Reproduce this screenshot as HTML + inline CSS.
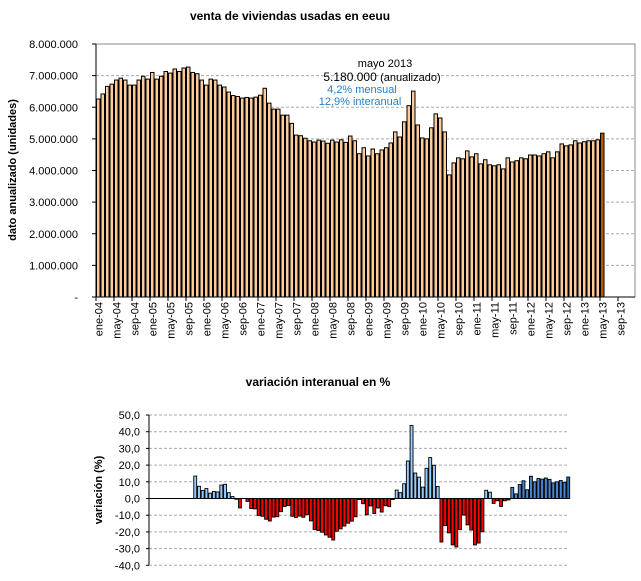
<!DOCTYPE html>
<html><head><meta charset="utf-8"><style>
body{margin:0;background:#fff;width:641px;height:581px;overflow:hidden}
svg{display:block;font-family:"Liberation Sans",Arial,sans-serif}
</style></head><body>
<svg id="s" width="641" height="581" xmlns="http://www.w3.org/2000/svg"></svg>
<script>
const d=[6.26,6.42,6.66,6.73,6.86,6.92,6.86,6.70,6.70,6.86,6.98,6.89,
7.10,6.89,6.98,7.13,7.08,7.21,7.13,7.24,7.27,7.10,7.06,6.86,
6.70,6.89,6.86,6.70,6.64,6.48,6.37,6.34,6.29,6.31,6.29,6.32,
6.38,6.60,6.13,5.94,5.94,5.75,5.75,5.49,5.12,5.10,5.02,4.94,
4.90,4.96,4.93,4.86,4.96,4.90,4.97,4.89,5.09,4.94,4.53,4.72,
4.46,4.68,4.53,4.65,4.72,4.87,5.22,5.06,5.54,6.05,6.51,5.44,
5.03,5.00,5.35,5.79,5.66,5.22,3.86,4.24,4.40,4.37,4.62,4.43,
4.53,4.21,4.34,4.18,4.15,4.18,4.05,4.40,4.27,4.31,4.40,4.37,
4.49,4.49,4.46,4.53,4.59,4.40,4.59,4.84,4.78,4.81,4.94,4.87,
4.91,4.94,4.94,4.97,5.18];
let h='';
const L=96,T=44,R=635,B=297,sl=4.5,pm=(B-T)/8;
h+=`<text x="290" y="20" font-size="12" font-weight="bold" text-anchor="middle">venta de viviendas usadas en eeuu</text>`;
for(let i=1;i<8;i++){const y=B-i*pm;h+=`<line x1="${L}" x2="${R}" y1="${y}" y2="${y}" stroke="#aaa" stroke-dasharray="3,2"/>`;}
h+=`<polyline points="${L},${T} ${R},${T} ${R},${B}" fill="none" stroke="#888"/>`;
for(let i=0;i<=8;i++){const y=B-i*pm;h+=`<line x1="${L-4}" x2="${L}" y1="${y}" y2="${y}" stroke="#000"/>`;
h+=`<text x="78" y="${y+4}" font-size="11" text-anchor="end">${i?i+'.000.000':'-'}</text>`;}
d.forEach((v,i)=>{const x=L+i*sl,y=B-v*pm;h+=`<rect x="${x+0.5}" y="${y}" width="${sl-1}" height="${B-y}" fill="${i==d.length-1?'#b35a00':'#ffcc99'}" stroke="#000" stroke-width="1"/>`;});
h+=`<line x1="${L}" x2="${L}" y1="${T}" y2="${B}" stroke="#000"/><line x1="${L}" x2="${R}" y1="${B}" y2="${B}" stroke="#000"/>`;
const mn=['ene','may','sep'];
for(let i=0;i<120;i+=4){const x=L+i*sl;h+=`<line x1="${x}" x2="${x}" y1="${B}" y2="${B+4}" stroke="#000"/>`;
const yr=String(4+Math.floor(i/12)).padStart(2,'0');const cx=x+sl/2+4;
h+=`<text transform="translate(${cx},302) rotate(-90)" font-size="11" text-anchor="end">${mn[(i%12)/4]}-${yr}</text>`;}
h+=`<text transform="translate(16,170) rotate(-90)" font-size="11" font-weight="bold" text-anchor="middle">dato anualizado (unidades)</text>`;
h+=`<text x="385" y="67" font-size="11" text-anchor="middle">mayo 2013</text>`;
h+=`<text x="382" y="81" font-size="12" text-anchor="middle">5.180.000 <tspan font-size="11">(anualizado)</tspan></text>`;
h+=`<text x="362" y="93" font-size="11" fill="#1f7fd0" text-anchor="middle">4,2% mensual</text>`;
h+=`<text x="360" y="105" font-size="11" fill="#1f7fd0" text-anchor="middle">12,9% interanual</text>`;
const L2=149,Z=498.5,pp=16.7/10,s2=3.73,R2=568;
h+=`<text x="318" y="386" font-size="12" font-weight="bold" text-anchor="middle">variación interanual en %</text>`;
for(let v=-40;v<=50;v+=10){const y=Z-v*pp;if(v)h+=`<line x1="${L2}" x2="${R2}" y1="${y}" y2="${y}" stroke="#aaa" stroke-dasharray="3,2"/>`;
h+=`<line x1="${L2-3}" x2="${L2}" y1="${y}" y2="${y}" stroke="#000"/>`;
h+=`<text x="140" y="${y+4}" font-size="11" text-anchor="end">${(v).toFixed(1).replace('.',',')}</text>`;}
for(let i=12;i<d.length;i++){const v=(d[i]/d[i-12]-1)*100;const x=L2+i*s2;const y=Z-v*pp;
let c=v<0?'#ff0000':(i>=96?'#4a86d0':'#99ccff');if(i==d.length-1)c='#2a6ec0';
h+=`<rect x="${x}" y="${Math.min(y,Z)}" width="${s2-0.8}" height="${Math.abs(Z-y)}" fill="${c}" stroke="#000" stroke-width="0.9"/>`;}
h+=`<line x1="${L2}" x2="${R2}" y1="${Z}" y2="${Z}" stroke="#000"/><line x1="${L2}" x2="${L2}" y1="415" y2="565" stroke="#000"/>`;
h+=`<text transform="translate(102,490) rotate(-90)" font-size="11" font-weight="bold" text-anchor="middle">variación (%)</text>`;
document.getElementById('s').innerHTML=h;
</script>
</body></html>
